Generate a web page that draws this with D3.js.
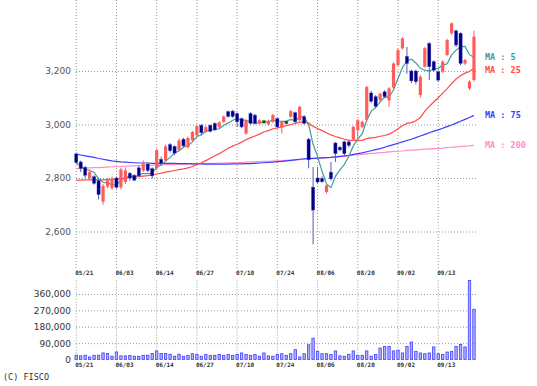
<!DOCTYPE html>
<html>
<head>
<meta charset="utf-8">
<script src="https://cdn.jsdelivr.net/npm/d3@7"></script>
<style>
body { margin: 0; background: #fff; }
svg text { font-family: "DejaVu Sans", sans-serif; }
</style>
</head>
<body>
<div id="chart"></div>
<script>
// daily candles 2024/05/21 - 2024/09/27
var dates = ["05/21","05/22","05/23","05/24","05/27","05/28","05/29","05/30","05/31",
  "06/03","06/04","06/05","06/06","06/07","06/10","06/11","06/12","06/13","06/14","06/17","06/18","06/19","06/20","06/21","06/24","06/25","06/26","06/27","06/28",
  "07/01","07/02","07/03","07/04","07/05","07/08","07/09","07/10","07/11","07/12","07/16","07/17","07/18","07/19","07/22","07/23","07/24","07/25","07/26","07/29","07/30","07/31",
  "08/01","08/02","08/05","08/06","08/07","08/08","08/09","08/13","08/14","08/15","08/16","08/19","08/20","08/21","08/22","08/23","08/26","08/27","08/28","08/29","08/30",
  "09/02","09/03","09/04","09/05","09/06","09/09","09/10","09/11","09/12","09/13","09/17","09/18","09/19","09/20","09/24","09/25","09/26","09/27"];

var opens = [2890,2860,2840,2800,2805,2790,2712,2768,2762,2800,2765,2785,2818,2810,2838,2828,2852,2835,2836,2870,2866,2925,2918,2905,2945,2915,2941,2960,2997,2972,
  2997,3004,2991,3010,3048,3050,3041,3022,2966,3041,3035,3004,3010,3000,3010,3022,2988,3008,3029,3044,
  3016,3029,2945,2766,2800,2798,2748,2822,2931,2915,2935,2935,2945,2979,2991,3018,3118,3104,3091,3122,
  3090,3138,3222,3285,3255,3200,3200,3110,3216,3303,3235,3197,3197,3260,3341,3350,3341,3228,3135,3166];
var highs = [2895,2865,2845,2832,2810,2795,2778,2800,2805,2805,2838,2840,2822,2815,2845,2866,2858,2840,2910,2880,2925,2930,2922,2948,2950,2955,2976,2998,3002,2995,
  3000,3008,3012,3034,3052,3055,3045,3026,3020,3046,3040,3020,3014,3018,3040,3026,3014,3012,3054,3048,
  3070,3035,2950,2841,2841,2806,2775,2860,2935,2920,2940,2940,2995,3020,3014,3145,3125,3110,3120,3128,
  3140,3232,3285,3326,3290,3205,3205,3185,3290,3308,3240,3203,3240,3320,3382,3355,3345,3245,3166,3351];
var lows = [2852,2822,2800,2792,2775,2720,2700,2762,2755,2760,2758,2778,2790,2788,2805,2822,2822,2798,2830,2848,2860,2895,2885,2900,2915,2910,2936,2955,2962,2968,
  2970,2975,2986,3006,3026,3025,2991,2986,2962,3000,3000,3000,3006,2996,3006,2986,2966,3004,3025,3006,
  3012,3000,2836,2552,2779,2782,2742,2790,2860,2900,2885,2915,2940,2948,2986,3012,3080,3060,3085,3098,
  3065,3132,3218,3280,3190,3155,3150,3100,3212,3166,3198,3160,3192,3255,3335,3290,3222,3222,3128,3160];
var closes = [2858,2835,2810,2822,2780,2738,2770,2795,2798,2765,2832,2828,2800,2792,2808,2852,2828,2808,2904,2855,2918,2902,2893,2940,2920,2950,2972,2994,2969,2990,
  2975,2980,3008,3030,3030,3030,3010,2991,3016,3004,3004,3016,3010,3014,3035,2991,3010,3008,3050,3010,
  3066,3004,2868,2680,2785,2786,2772,2797,2891,2905,2891,2922,2991,3016,3010,3140,3087,3068,3115,3104,
  3135,3228,3278,3322,3228,3163,3160,3178,3285,3216,3203,3166,3235,3316,3378,3297,3228,3241,3160,3328];
var volumes = [23500,20000,23500,14000,23500,23500,36000,32500,18000,41500,20000,20000,22000,18000,18000,22000,23500,32500,47000,32500,32500,29000,18000,29000,18000,23000,32000,27000,18000,27000,
  23000,23000,27000,23000,27000,23000,27000,36000,27000,23000,27000,18000,36000,20000,18000,27000,32000,23000,32000,54000,
  14000,32000,81000,117000,45000,32000,32000,27000,47000,20000,18000,29000,47000,23000,23000,47000,18000,27000,63000,72000,
  72000,47000,51000,36000,72000,96000,45000,36000,32000,36000,69000,32000,27000,41000,45000,72000,83000,69000,434000,276000];

var ma5 = [2855,2845,2832,2828,2821,2797,2784,2781,2776,2773,2792,2804,2805,2803,2812,2816,2816,2818,2840,2849,2863,2877,2894,2902,2915,2921,2935,2955,2961,2975,
  2980,2982,2984,2997,3005,3016,3022,3018,3015,3010,3005,3006,3010,3010,3016,3013,3012,3012,3019,3014,
  3029,3028,3000,2926,2881,2825,2778,2764,2806,2830,2851,2881,2920,2945,2966,3016,3049,3064,3084,3103,
  3102,3130,3172,3213,3238,3244,3230,3210,3203,3200,3208,3210,3221,3227,3260,3278,3291,3292,3261,3251];
var ma25 = [2792,2792,2793,2793,2794,2793,2793,2794,2795,2796,2798,2800,2801,2803,2805,2807,2809,2812,2815,2818,2822,2825,2828,2831,2834,2838,2843,2851,2856,2865,
  2874,2883,2891,2901,2911,2919,2926,2934,2943,2951,2957,2964,2972,2977,2984,2987,2991,2996,3000,3004,
  3009,3010,3005,2993,2985,2977,2969,2961,2955,2950,2945,2941,2941,2941,2941,2947,2950,2952,2956,2959,
  2964,2973,2984,2995,3004,3007,3014,3026,3050,3068,3084,3100,3117,3134,3153,3170,3182,3192,3198,3210];
var ma75 = [2889,2886,2883,2880,2877,2873,2870,2867,2864,2862,2860,2859,2858,2857,2856,2856,2856,2855,2855,2855,2855,2855,2855,2854,2854,2854,2853,2853,2853,2852,
  2852,2852,2852,2852,2852,2853,2853,2853,2854,2854,2855,2856,2857,2858,2859,2861,2862,2864,2866,2868,
  2870,2872,2873,2873,2874,2875,2876,2877,2879,2881,2883,2885,2888,2891,2894,2898,2902,2906,2910,2915,
  2920,2925,2930,2935,2940,2945,2951,2957,2963,2969,2975,2980,2986,2992,2998,3005,3012,3019,3026,3034];
var ma200 = [2835,2836,2837,2838,2839,2839,2840,2841,2842,2842,2843,2844,2845,2845,2846,2847,2847,2848,2849,2849,2850,2850,2851,2851,2852,2852,2853,2853,2854,2854,
  2855,2855,2856,2856,2857,2857,2858,2858,2859,2860,2860,2861,2862,2862,2863,2864,2865,2866,2867,2868,
  2869,2870,2871,2872,2873,2874,2876,2877,2878,2880,2881,2883,2885,2887,2888,2890,2892,2893,2895,2896,
  2898,2899,2900,2901,2903,2904,2905,2906,2908,2909,2910,2911,2912,2914,2915,2916,2917,2919,2920,2922];

var priceTicks = [2600, 2800, 3000, 3200];
var volTicks = [0, 90000, 180000, 270000, 360000];
var labelDates = ["05/21","06/03","06/14","06/27","07/10","07/24","08/06","08/20","09/02","09/13"];
var maLabels = ["MA : 5", "MA : 25", "MA : 75", "MA : 200"];
var maColors = ["#3f9f99", "#ff4a4a", "#3c3cff", "#ff8ccb"];

var w = 537, h = 386;
var left = 76, right = 476;
var mainBottom = 268, volTop = 280, volBottom = 359.5;

var svg = d3.select("#chart").append("svg").attr("width", w).attr("height", h);

var x = d3.scaleBand().domain(dates).range([74, 476.2]);
var cx = function (d) { return x(d) + x.step() / 2; };
var y = d3.scaleLinear().domain([2600, 3200]).range([231.5, 71]);
var yv = d3.scaleLinear().domain([0, 360000]).range([volBottom, 294]);

function dotted(g) {
  g.select(".domain").remove();
  g.selectAll(".tick line").attr("stroke", "#9a9a9a").attr("stroke-dasharray", "1,2");
}

// price grid + labels
svg.append("g")
  .attr("transform", "translate(" + left + ",0)")
  .call(d3.axisLeft(y).tickValues(priceTicks).tickSize(-(right - left)).tickPadding(5).tickFormat(d3.format(",")))
  .call(dotted)
  .call(function (g) { g.selectAll("text").attr("fill", "#555").style("font-size", "9px"); });

// vertical grid (main) with date labels below
svg.append("g")
  .attr("transform", "translate(0," + mainBottom + ")")
  .call(d3.axisBottom(x).tickValues(labelDates).tickSize(-mainBottom).tickPadding(3))
  .call(dotted)
  .call(function (g) {
    g.selectAll("text").attr("text-anchor", "start").attr("x", -1)
      .attr("fill", "#333").style("font-family", "DejaVu Sans Mono, monospace").style("font-size", "6px").style("font-weight", "bold");
  });

// volume grid
svg.append("g")
  .attr("transform", "translate(" + left + ",0)")
  .call(d3.axisLeft(yv).tickValues(volTicks).tickSize(-(right - left)).tickPadding(5).tickFormat(d3.format(",")))
  .call(dotted)
  .call(function (g) {
    g.selectAll(".tick line").filter(function (d) { return d === 0; }).remove();
    g.selectAll("text").attr("fill", "#333").style("font-size", "9px");
  });

svg.append("g")
  .attr("transform", "translate(0," + volBottom + ")")
  .call(d3.axisBottom(x).tickValues(labelDates).tickSize(-(volBottom - volTop)).tickPadding(3))
  .call(dotted)
  .call(function (g) {
    g.selectAll("text").attr("text-anchor", "start").attr("x", -1)
      .attr("fill", "#333").style("font-family", "DejaVu Sans Mono, monospace").style("font-size", "6px").style("font-weight", "bold");
  });

// moving averages (long ones first)
var maSeries = [ma5, ma25, ma75, ma200];
var line = d3.line().x(function (d, i) { return cx(dates[i]); }).y(function (d) { return y(d); });
[3, 2, 1, 0].forEach(function (k) {
  svg.append("path").datum(maSeries[k])
    .attr("fill", "none").attr("stroke", maColors[k]).attr("stroke-width", 1.2)
    .attr("d", line);
});

// candles
var idx = d3.range(dates.length);
var candle = svg.append("g").selectAll("g").data(idx).enter().append("g");
function col(i) {
  if (closes[i] > opens[i]) return { body: "#ff5c5c", wick: "#ff5c5c" };
  if (closes[i] < opens[i]) return { body: "#000080", wick: "#5a5ab8" };
  return { body: "#006400", wick: "#3c8c3c" };
}
candle.append("line")
  .attr("x1", function (i) { return cx(dates[i]); })
  .attr("x2", function (i) { return cx(dates[i]); })
  .attr("y1", function (i) { return y(highs[i]); })
  .attr("y2", function (i) { return y(lows[i]); })
  .attr("stroke", function (i) { return col(i).wick; }).attr("stroke-width", 1);
candle.append("rect")
  .attr("x", function (i) { return cx(dates[i]) - 1.6; })
  .attr("width", 3.2)
  .attr("y", function (i) {
    var a = y(Math.max(opens[i], closes[i]));
    return opens[i] === closes[i] ? a - 1.5 : a;
  })
  .attr("height", function (i) {
    return opens[i] === closes[i] ? 3 : Math.max(1, Math.abs(y(opens[i]) - y(closes[i])));
  })
  .attr("fill", function (i) { return col(i).body; })
  .attr("stroke", function (i) { return closes[i] < opens[i] ? "#4b4bd0" : "none"; })
  .attr("stroke-width", 0.4);

// volume bars
svg.append("g").selectAll("rect").data(volumes).enter().append("rect")
  .attr("x", function (d, i) { return cx(dates[i]) - 1.2; })
  .attr("width", 2.4)
  .attr("y", function (d) { return yv(d); })
  .attr("height", function (d) { return yv(0) - yv(d); })
  .attr("fill", "#b0b0ff").attr("stroke", "#4040ff").attr("stroke-width", 0.8);

// MA labels at right, positioned at last value
var lastY = maSeries.map(function (s) { return y(s[s.length - 1]); });
for (var k = 1; k < lastY.length; k++) {
  if (lastY[k] - lastY[k - 1] < 13) lastY[k] = lastY[k - 1] + 13;
}
svg.append("g").selectAll("text").data(maLabels).enter().append("text")
  .attr("x", 485).attr("y", function (d, k) { return lastY[k]; })
  .attr("dy", "0.35em")
  .attr("fill", function (d, k) { return maColors[k]; })
  .style("font-family", "DejaVu Sans Mono, monospace").style("font-size", "8.5px").style("font-weight", "bold")
  .text(function (d) { return d; });

svg.append("text").attr("x", 3).attr("y", 380)
  .attr("fill", "#333").style("font-family", "DejaVu Sans Mono, monospace").style("font-size", "8.5px")
  .text("(C) FISCO");
</script>
</body>
</html>
